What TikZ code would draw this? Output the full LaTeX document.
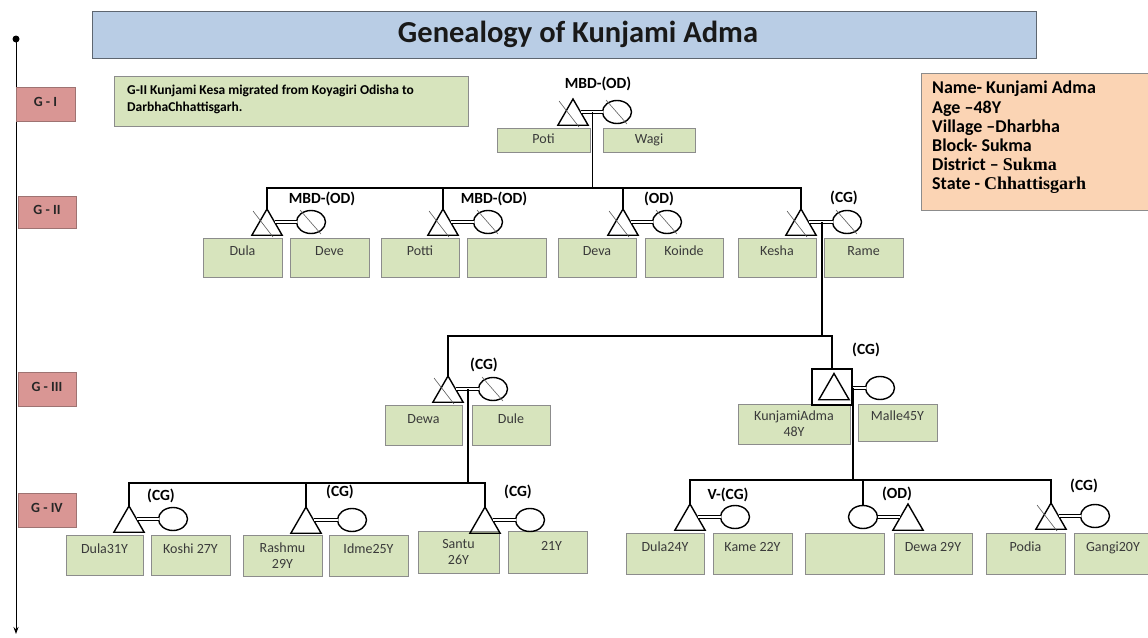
\documentclass[tikz,border=0pt]{standalone}
\usepackage{fontspec}
\setmainfont{Carlito}
\newfontfamily\serifbold{Liberation Serif}
\usetikzlibrary{shapes.geometric,calc,arrows.meta}

\definecolor{titleblue}{HTML}{B9CDE5}
\definecolor{titleedge}{HTML}{5E6670}
\definecolor{leaf}{HTML}{D7E4BD}
\definecolor{peach}{HTML}{FBD4B4}
\definecolor{rose}{HTML}{D99694}
\definecolor{roseedge}{HTML}{9E7372}
\definecolor{edge}{HTML}{8C8C8C}
\definecolor{ink}{HTML}{3A3A3A}

\tikzset{
  kin/.style={line width=1.6pt},
  wed/.style={line width=1.1pt, double distance=2.2pt, double=white},
  male/.style={regular polygon, regular polygon sides=3, minimum size=35pt,
    inner sep=0pt, outer sep=0pt, draw, line width=1.4pt},
  female/.style={ellipse, minimum width=29pt, minimum height=23pt,
    inner sep=0pt, outer sep=0pt, draw, line width=1.4pt},
  strike/.style={line width=0.6pt, draw=black!65},
  card/.style={draw=edge, line width=0.8pt, fill=leaf, inner sep=0pt,
    align=center, text=ink, font=\fontsize{14}{16}\selectfont},
  mid/.style={text height=10pt, text depth=3pt},
  one/.style={text height=10pt, text depth=14pt},
  genbox/.style={draw=roseedge, line width=0.8pt, fill=rose, inner sep=0pt,
    text=black!85, font=\bfseries\fontsize{14}{16}\selectfont,
    text height=10pt, text depth=6pt},
  rel/.style={font=\bfseries\fontsize{15.5}{17}\selectfont, inner sep=0pt},
}

% rectangle node given by its corners
\newcommand\boxat[7][]{%
  \node[#1, minimum width={#5pt-#3pt}, minimum height={#6pt-#4pt}] (#2)
    at ({(#3+#5)/2},{(#4+#6)/2}) {#7};}

% husband (triangle, apex at #2,#3) joined to wife (circle at x=#4)
\newcommand\wedpair[4]{%
  \node[male] (#1m) at (#2,#3+17.5) {};
  \node[female] (#1f) at (#4,#3+13) {};
  \draw[wed] (#1m.side 3) -- (#1m.side 3 -| #1f.west);
  \coordinate (#1c) at ($(#1m.side 3)!0.55!(#1f.west)$);}

% deceased marks
\newcommand\crossm[1]{\draw[strike] ($(#1.corner 1)+(-14,2)$) -- ($(#1.corner 1)+(6,28)$);}
\newcommand\crossf[1]{\draw[strike] ($(#1.center)+(-11,-12)$) -- ($(#1.center)+(10,12)$);}

\begin{document}
\begin{tikzpicture}[x=1pt,y=-1pt]
\useasboundingbox (0,0) rectangle (1148,637);

% generation axis
\coordinate (axtop) at (16,39);
\coordinate (axbot) at (16,634);
\draw[line width=1pt, -{Stealth[length=7pt,width=5pt]}] (axtop) -- (axbot);
\fill (axtop) circle[radius=3.5];

\boxat[genbox]{gen1}{16}{87}{75}{121}{G - I}
\boxat[genbox]{gen2}{18}{196}{76}{228}{G - II}
\boxat[genbox]{gen3}{18}{372}{76}{406}{G - III}
\boxat[genbox]{gen4}{18}{493}{76}{527}{G - IV}

% title
\boxat[draw=titleedge, line width=1pt, fill=titleblue]{titlebox}{92}{11}{1036}{58}{}
\node[font=\bfseries\fontsize{30.5}{34}\selectfont, text=black!90] (title) at (578,34) {Genealogy of Kunjami Adma};

% migration note
\boxat[draw=edge, line width=0.8pt, fill=leaf]{notebox}{114}{76}{468}{126}{}
\node[anchor=north west, inner sep=0pt, align=left, font=\bfseries\fontsize{13.5}{17}\selectfont] (note)
  at (127,85) {G-II Kunjami Kesa migrated from Koyagiri Odisha to\\DarbhaChhattisgarh.};

% informant
\boxat[draw=edge, line width=0.8pt, fill=peach]{infobox}{921}{73}{1152}{210}{}
\node[anchor=north west, inner sep=0pt, align=left, font=\bfseries\fontsize{18}{19.2}\selectfont] (info)
  at (932,81) {Name- Kunjami Adma\\Age –48Y\\Village –Dharbha\\Block- Sukma\\District – {\serifbold Sukma}\\State - {\serifbold Chhattisgarh}};

% ---------- G-I ----------
\boxat[card,mid]{poti}{497}{128}{590}{152}{Poti}
\boxat[card,mid]{wagi}{603}{128}{695}{152}{Wagi}
\wedpair{ga}{573}{99}{617}
\crossm{gam} \crossf{gaf}
\node[rel] (lga) at (598,84) {MBD-(OD)};

% ---------- G-II ----------
\boxat[card,one]{dula}{203}{238}{282}{277}{Dula}
\boxat[card,one]{deve}{290}{238}{369}{277}{Deve}
\boxat[card,one]{potti}{381}{238}{459}{277}{Potti}
\boxat[card,one]{pottiw}{467}{238}{546}{277}{}
\boxat[card,one]{deva}{558}{238}{636}{277}{Deva}
\boxat[card,one]{koinde}{645}{238}{723}{277}{Koinde}
\boxat[card,one]{kesha}{738}{238}{816}{277}{Kesha}
\boxat[card,one]{rame}{824}{238}{903}{277}{Rame}

\wedpair{du}{267}{209}{311}
\wedpair{po}{443}{209}{488}
\wedpair{dv}{623}{209}{667}
\wedpair{ke}{801}{209}{847}
\crossm{dum} \crossf{duf}
\crossm{pom} \crossf{pof}
\crossm{dvm} \crossf{dvf}
\crossm{kem} \crossf{kef}
\node[rel] (ldu) at (322,199) {MBD-(OD)};
\node[rel] (lpo) at (494,199) {MBD-(OD)};
\node[rel] (ldv) at (659,199) {(OD)};
\node[rel] (lke) at (844,198) {(CG)};

\coordinate (b2) at (gac |- 0,188);
\draw[kin] (gac) -- (b2);
\draw[kin] (dum.corner 1) |- (b2);
\draw[kin] (pom.corner 1) |- (b2);
\draw[kin] (dvm.corner 1) |- (b2);
\draw[kin] (kem.corner 1) |- (b2);

% ---------- G-III ----------
\boxat[card,one]{dewa}{385}{405}{462}{445}{Dewa}
\boxat[card,one]{dule}{472}{405}{550}{445}{Dule}
\boxat[card]{kunj}{738}{404}{850}{444}{KunjamiAdma\\48Y}
\boxat[card,one]{malle}{858}{404}{937}{441}{Malle45Y}

\wedpair{dw}{448}{376}{493}
\crossm{dwm} \crossf{dwf}
\node[rel] (ldw) at (484,365) {(CG)};

\node[draw, line width=2pt, minimum width=40pt, minimum height=36pt, inner sep=0pt] (ksq) at (832,387) {};
\node[male] (km) at (834,391) {};
\node[female] (kf) at (880,388) {};
\coordinate (kc) at (ksq.east |- kf.west);
\draw[wed] (kc) -- (kf.west);
\node[rel] (lk) at (866,350) {(CG)};

\coordinate (b3) at (kec |- 0,336);
\draw[kin] (kec) -- (b3);
\draw[kin] (dwm.corner 1) |- (b3);
\draw[kin] (ksq.north) |- (b3);

% ---------- G-IV ----------
\boxat[card,one]{dula31}{66}{535}{143}{575}{Dula31Y}
\boxat[card,one]{koshi}{151}{535}{230}{575}{Koshi 27Y}
\boxat[card]{rashmu}{243}{535}{322}{576}{Rashmu\\29Y}
\boxat[card,one]{idme}{329}{535}{408}{576}{Idme25Y}
\boxat[card]{santu}{418}{531}{499}{573}{Santu\\26Y}
\boxat[card,one]{santuw}{508}{531}{587}{573}{\hspace*{8pt}21Y}

\boxat[card,one]{dula24}{626}{533}{704}{574}{Dula24Y}
\boxat[card,one]{kame}{713}{533}{792}{574}{Kame 22Y}
\boxat[card,one]{daughter}{805}{533}{884}{574}{}
\boxat[card,one]{dewa29}{894}{533}{972}{574}{Dewa 29Y}
\boxat[card,one]{podia}{986}{533}{1065}{574}{Podia}
\boxat[card,one]{gangi}{1074}{533}{1152}{574}{Gangi20Y}

\wedpair{da}{129}{506}{173}
\wedpair{ra}{306}{507}{352}
\wedpair{sa}{485}{507}{530}
\node[rel] (lda) at (161,496) {(CG)};
\node[rel] (lra) at (340,492) {(CG)};
\node[rel] (lsa) at (518,492) {(CG)};

\coordinate (b4l) at (dwc |- 0,483);
\draw[kin] (dwc) -- (b4l);
\draw[kin] (dam.corner 1) |- (b4l);
\draw[kin] (ram.corner 1) |- (b4l);
\draw[kin] (sam.corner 1) |- (b4l);

\wedpair{db}{690}{504}{735}
\node[female] (hf) at (863,517) {};
\node[male] (hm) at (908,521.5) {};
\draw[wed] (hf.east) -- (hf.east -| hm.side 1);
\wedpair{pd}{1051}{503}{1095}
\crossm{pdm}
\node[rel] (ldb) at (728,495) {V-(CG)};
\node[rel] (lh) at (897,494) {(OD)};
\node[rel] (lpd) at (1084,486) {(CG)};

\coordinate (b4r) at (kc |- 0,480);
\draw[kin] (kc) -- (b4r);
\draw[kin] (dbm.corner 1) |- (b4r);
\draw[kin] (hf.north) |- (b4r);
\draw[kin] (pdm.corner 1) |- (b4r);
\end{tikzpicture}
\end{document}
